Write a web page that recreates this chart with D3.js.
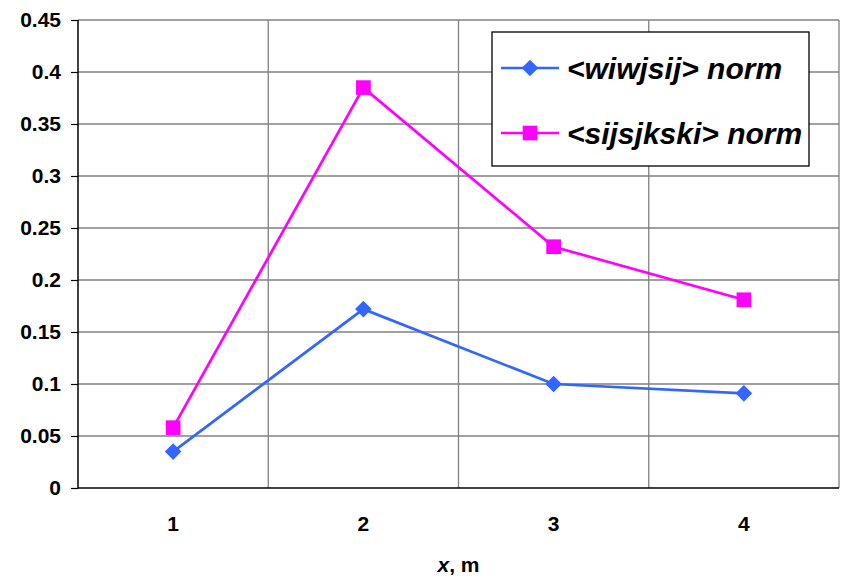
<!DOCTYPE html>
<html>
<head>
<meta charset="utf-8">
<script src="https://cdn.jsdelivr.net/npm/d3@7"></script>
<style>
  body { margin: 0; background: #fff; }
  svg { font-family: Arial, "Liberation Sans", sans-serif; }
</style>
</head>
<body>
<div id="chart"></div>
<script>
// data
var categories = ["1", "2", "3", "4"];
var wiwjsij = [0.035, 0.172, 0.100, 0.091];
var sijsjkski = [0.058, 0.385, 0.232, 0.181];
var yTicks = [0, 0.05, 0.1, 0.15, 0.2, 0.25, 0.3, 0.35, 0.4, 0.45];
var seriesNames = ["<wiwjsij> norm", "<sijsjkski> norm"];

var W = 844, H = 577;
var margin = {top: 20, right: 5, bottom: 89, left: 78};
var width = W - margin.left - margin.right;
var height = H - margin.top - margin.bottom;

var svg = d3.select("#chart").append("svg")
  .attr("width", W)
  .attr("height", H);

var g = svg.append("g")
  .attr("transform", "translate(" + margin.left + "," + margin.top + ")");

var x = d3.scaleBand().domain(categories).range([0, width]);
var y = d3.scaleLinear().domain([0, 0.45]).range([height, 0]);

// horizontal gridlines
g.selectAll(".hgrid")
  .data(yTicks.slice(1))
  .enter().append("line")
  .attr("x1", 0).attr("x2", width)
  .attr("y1", d => y(d)).attr("y2", d => y(d))
  .attr("stroke", "#808080").attr("stroke-width", 1.3);

// vertical gridlines at category boundaries
g.selectAll(".vgrid")
  .data(categories.slice(1).concat(["end"]))
  .enter().append("line")
  .attr("x1", (d, i) => i < categories.length - 1 ? x(d) : width)
  .attr("x2", (d, i) => i < categories.length - 1 ? x(d) : width)
  .attr("y1", 0).attr("y2", height)
  .attr("stroke", "#808080").attr("stroke-width", 1.3);

// y axis
var yAxis = g.append("g")
  .call(d3.axisLeft(y).tickValues(yTicks).tickSize(7).tickFormat(d => String(+d.toFixed(2))));
yAxis.attr("font-size", null).attr("font-family", null);
yAxis.select(".domain").attr("stroke", "#000").attr("stroke-width", 1.5).attr("d", "M0,0V" + height);
yAxis.selectAll(".tick line").attr("stroke", "#000").attr("stroke-width", 1.2);
yAxis.selectAll(".tick text")
  .attr("x", -17)
  .style("font-size", "21px").style("font-weight", "bold").attr("fill", "#000");

// x axis
var xAxis = g.append("g")
  .attr("transform", "translate(0," + height + ")")
  .call(d3.axisBottom(x).tickSize(0));
xAxis.attr("font-size", null).attr("font-family", null);
xAxis.select(".domain").attr("stroke", "#000").attr("stroke-width", 1.5).attr("d", "M0,0H" + width);
xAxis.selectAll(".tick text")
  .attr("y", 36)
  .attr("dy", "0.35em")
  .style("font-size", "21px").style("font-weight", "bold").attr("fill", "#000");

// x axis title
var xt = svg.append("text")
  .attr("x", margin.left + width / 2)
  .attr("y", 565)
  .attr("dy", "0.35em")
  .attr("text-anchor", "middle")
  .style("font-size", "21px").style("font-weight", "bold");
xt.append("tspan").style("font-style", "italic").text("x");
xt.append("tspan").text(", m");

var cx = d => x(d) + x.bandwidth() / 2;
var line = d3.line().x((d, i) => cx(categories[i])).y(d => y(d));

var diamond = d3.symbol().type(d3.symbolDiamond2).size(175);
var square = d3.symbol().type(d3.symbolSquare).size(215);

// magenta series
g.append("path").datum(sijsjkski)
  .attr("d", line).attr("fill", "none")
  .attr("stroke", "#FF00FF").attr("stroke-width", 2.7);
// blue series
g.append("path").datum(wiwjsij)
  .attr("d", line).attr("fill", "none")
  .attr("stroke", "#3366FF").attr("stroke-width", 2.7);

g.selectAll(".sq").data(sijsjkski).enter().append("path")
  .attr("d", square)
  .attr("transform", (d, i) => "translate(" + cx(categories[i]) + "," + y(d) + ")")
  .attr("fill", "#FF00FF");
g.selectAll(".dm").data(wiwjsij).enter().append("path")
  .attr("d", diamond)
  .attr("transform", (d, i) => "translate(" + cx(categories[i]) + "," + y(d) + ")")
  .attr("fill", "#3366FF");

// legend
var leg = svg.append("g").attr("transform", "translate(492,32)");
leg.append("rect")
  .attr("width", 317).attr("height", 134)
  .attr("fill", "#fff").attr("stroke", "#000").attr("stroke-width", 1.3);

var legColors = ["#3366FF", "#FF00FF"];
var legSymbols = [diamond, square];
seriesNames.forEach(function (name, i) {
  var ly = 36 + i * 65;
  leg.append("line")
    .attr("x1", 9).attr("x2", 67)
    .attr("y1", ly).attr("y2", ly)
    .attr("stroke", legColors[i]).attr("stroke-width", 2.7);
  leg.append("path")
    .attr("d", legSymbols[i])
    .attr("transform", "translate(38," + ly + ")")
    .attr("fill", legColors[i]);
  leg.append("text")
    .attr("x", 75).attr("y", ly)
    .attr("dy", "0.35em")
    .style("font-size", "30px").style("font-weight", "bold").style("font-style", "italic")
    .text(name);
});
</script>
</body>
</html>
